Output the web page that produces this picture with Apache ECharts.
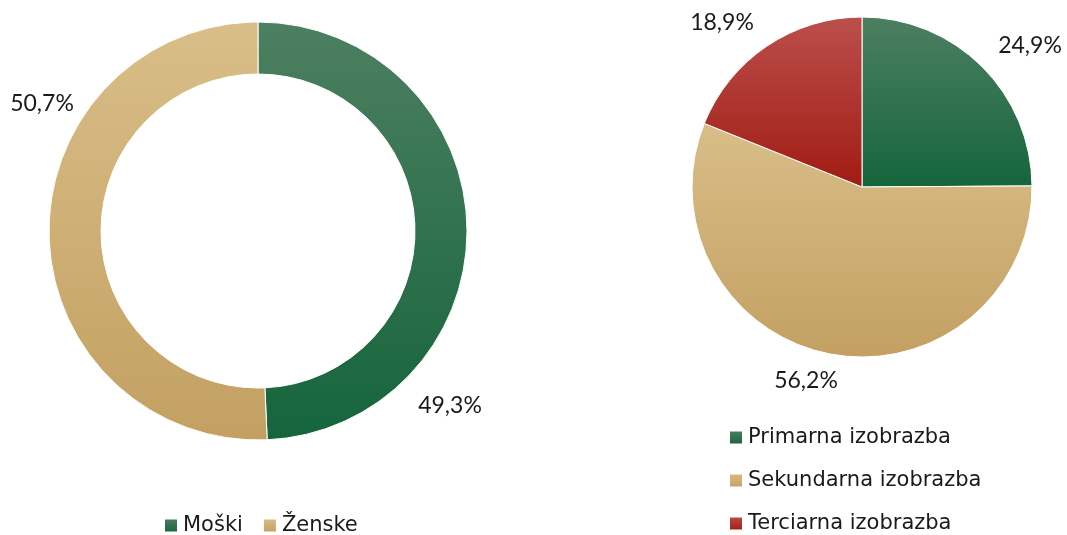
<!DOCTYPE html>
<html>
<head>
<meta charset="utf-8">
<script src="https://cdn.jsdelivr.net/npm/echarts@6/dist/echarts.min.js"></script>
<style>
  html, body { margin: 0; padding: 0; background: #fff; }
  #main { width: 1067px; height: 535px; }
</style>
</head>
<body>
<div id="main"></div>
<script>
// spol
var genderNames = ['Moški', 'Ženske'];
var genderValues = [49.3, 50.7];
// izobrazba
var eduNames = ['Primarna izobrazba', 'Sekundarna izobrazba', 'Terciarna izobrazba'];
var eduValues = [24.9, 56.2, 18.9];

var LEG_FONT = 'DejaVu Sans';
var LBL_FONT = 'Lato';

function grad(top, bottom) {
    return new echarts.graphic.LinearGradient(0, 0, 0, 1, [
        { offset: 0, color: top },
        { offset: 1, color: bottom }
    ]);
}
var green = grad('#4d7f61', '#15653c');
var tan = grad('#d9be88', '#c3a062');
var red = grad('#bb4f4c', '#a11b13');

function fmt(p) {
    return p.value.toFixed(1).replace('.', ',') + '%';
}

// label anchors (offset from pie centre)
var genderLabelPos = [[192, 175], [-216, -127]];
var eduLabelPos = [[168, -141], [-56, 194], [-140, -164]];

var labelStyle = { show: true, position: 'outside', formatter: fmt, fontSize: 23, color: '#1a1a1a', fontFamily: LBL_FONT };
var legText = { fontSize: 21, color: '#1a1a1a', fontFamily: LEG_FONT };

var chart = echarts.init(document.getElementById('main'));
chart.setOption({
    animation: false,
    legend: [
        {
            data: genderNames,
            left: 163,
            top: 515,
            padding: 0,
            icon: 'rect',
            itemWidth: 14,
            itemHeight: 14,
            itemGap: 19,
            textStyle: legText
        },
        {
            data: eduNames,
            orient: 'vertical',
            left: 728,
            top: 427,
            height: 120,
            padding: 0,
            icon: 'rect',
            itemWidth: 14,
            itemHeight: 14,
            itemGap: 22,
            textStyle: legText
        }
    ],
    series: [
        {
            name: 'spol',
            type: 'pie',
            center: [258, 231],
            radius: [157, 209],
            startAngle: 90,
            clockwise: true,
            avoidLabelOverlap: false,
            label: labelStyle,
            labelLine: { show: false, length: 0, length2: 0 },
            labelLayout: function (p) {
                var o = genderLabelPos[p.dataIndex];
                return { x: 258 + o[0], y: 231 + o[1], align: 'center', verticalAlign: 'middle' };
            },
            itemStyle: { borderColor: '#fff', borderWidth: 1 },
            emphasis: { disabled: true },
            data: genderNames.map(function (n, i) {
                return { name: n, value: genderValues[i], itemStyle: { color: [green, tan][i] } };
            })
        },
        {
            name: 'izobrazba',
            type: 'pie',
            center: [862, 187],
            radius: [0, 170],
            startAngle: 90,
            clockwise: true,
            avoidLabelOverlap: false,
            label: labelStyle,
            labelLine: { show: false, length: 0, length2: 0 },
            labelLayout: function (p) {
                var o = eduLabelPos[p.dataIndex];
                return { x: 862 + o[0], y: 187 + o[1], align: 'center', verticalAlign: 'middle' };
            },
            itemStyle: { borderColor: '#fff', borderWidth: 1 },
            emphasis: { disabled: true },
            data: eduNames.map(function (n, i) {
                return { name: n, value: eduValues[i], itemStyle: { color: [green, tan, red][i] } };
            })
        }
    ]
});
</script>
</body>
</html>
